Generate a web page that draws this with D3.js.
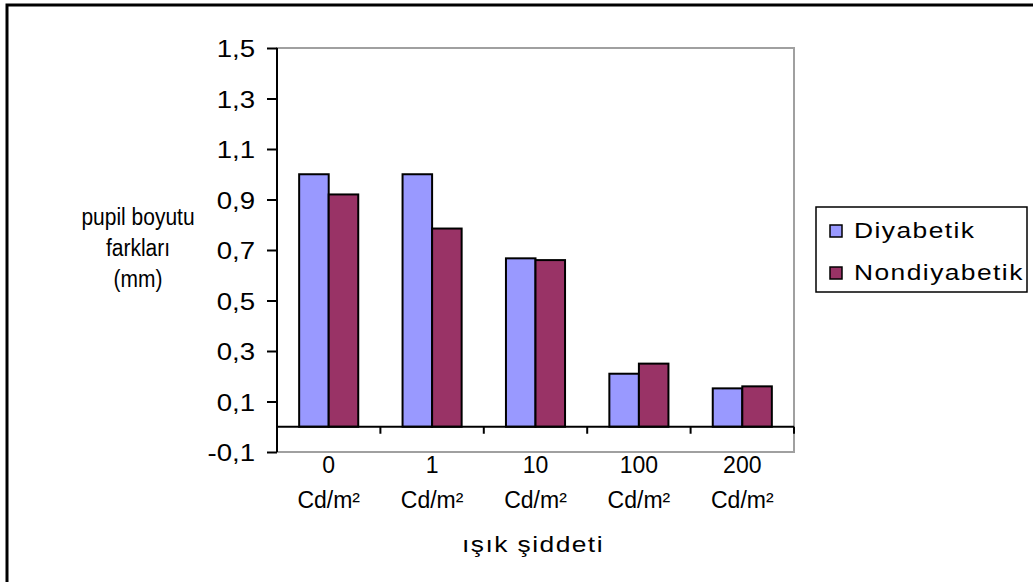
<!DOCTYPE html>
<html>
<head>
<meta charset="utf-8">
<script src="https://cdn.jsdelivr.net/npm/d3@7"></script>
<style>
  html, body { margin: 0; padding: 0; background: #fff; }
  svg { display: block; font-family: "Liberation Sans", Arial, sans-serif; }
</style>
</head>
<body>
<svg id="chart" width="1033" height="582"></svg>
<script>
// Light intensity levels (two-line category labels)
const categories = ["0", "1", "10", "100", "200"];
const categoryUnit = "Cd/m²";
const seriesNames = ["Diyabetik", "Nondiyabetik"];
const diyabetik = [1.0, 1.0, 0.667, 0.21, 0.152];
const nondiyabetik = [0.92, 0.785, 0.66, 0.25, 0.16];
const yTicks = [-0.1, 0.1, 0.3, 0.5, 0.7, 0.9, 1.1, 1.3, 1.5];
const colors = ["#9999ff", "#993366"];

const svg = d3.select("#chart");
const plot = { left: 277, right: 794, top: 48, bottom: 452 };

// Places a text at (x, y) with an optional glyph scaling around its anchor point
function placeText(sel, fx, fy, sx = 1, sy = 1) {
  const v = (f, d, i) => (typeof f === "function" ? f(d, i) : f);
  return sel.attr("transform", (d, i) => `translate(${v(fx, d, i)},${v(fy, d, i)}) scale(${sx},${sy})`);
}

// Outer frame (only top and left edges fall inside the page)
svg.append("rect")
  .attr("x", 7).attr("y", 5)
  .attr("width", 1040).attr("height", 600)
  .attr("fill", "none").attr("stroke", "#000").attr("stroke-width", 3);

const x = d3.scaleBand().domain(categories).range([plot.left, plot.right]).paddingInner(0).paddingOuter(0);
const y = d3.scaleLinear().domain([-0.1, 1.5]).range([plot.bottom, plot.top]);

// Plot area border
svg.append("rect")
  .attr("x", plot.left).attr("y", plot.top)
  .attr("width", plot.right - plot.left).attr("height", plot.bottom - plot.top)
  .attr("fill", "#fff").attr("stroke", "#a0a0a0").attr("stroke-width", 2);

// Bars: gap width 150% of the bar width
const barW = x.bandwidth() / 3.5;
const rows = categories.map((c, i) => ({ c, vals: [diyabetik[i], nondiyabetik[i]] }));
const groups = svg.append("g").selectAll("g").data(rows).join("g")
  .attr("transform", d => `translate(${x(d.c) + barW * 0.75},0)`);
groups.selectAll("rect").data(d => d.vals).join("rect")
  .attr("x", (d, j) => j * barW)
  .attr("y", d => y(Math.max(0, d)))
  .attr("width", barW)
  .attr("height", d => Math.abs(y(d) - y(0)))
  .attr("fill", (d, j) => colors[j])
  .attr("stroke", "#000").attr("stroke-width", 2);

// Value axis
const yAxis = d3.axisLeft(y).tickValues(yTicks).tickSize(10).tickPadding(8)
  .tickFormat(d => d3.format(".1f")(d).replace(".", ",").replace("\u2212", "-"));
const yg = svg.append("g").attr("transform", `translate(${plot.left},0)`).call(yAxis);
yg.select(".domain").attr("stroke", "#000").attr("stroke-width", 2).attr("d", `M0,${plot.top}V${plot.bottom}`);
yg.selectAll(".tick line").attr("stroke", "#000").attr("stroke-width", 2);
yg.selectAll(".tick text").attr("font-size", 24).attr("fill", "#000")
  .attr("font-family", "Liberation Sans, Arial, sans-serif")
  .attr("x", null).attr("dy", null).attr("y", 8.5)
  .attr("transform", "translate(-22,0) scale(1.15,1)");

// Category axis along zero
const xAxisG = svg.append("g").attr("transform", `translate(0,${y(0)})`);
xAxisG.append("line").attr("x1", plot.left).attr("x2", plot.right)
  .attr("stroke", "#000").attr("stroke-width", 2);
const boundaries = categories.map(c => x(c) + x.bandwidth());
xAxisG.selectAll("line.tk").data(boundaries).join("line").attr("class", "tk")
  .attr("x1", d => d).attr("x2", d => d).attr("y1", 0).attr("y2", 7)
  .attr("stroke", "#000").attr("stroke-width", 2);

// Category labels beneath the plot area
const lab = svg.append("g").attr("font-size", 23).attr("fill", "#000").attr("text-anchor", "middle");
placeText(lab.selectAll("text.v").data(categories).join("text").attr("class", "v"),
  c => x(c) + x.bandwidth() / 2, 473).text(c => c);
placeText(lab.selectAll("text.u").data(categories).join("text").attr("class", "u"),
  c => x(c) + x.bandwidth() / 2, 508).text(categoryUnit);

// Axis titles
placeText(svg.append("text").attr("text-anchor", "middle").attr("font-size", 22)
  .attr("letter-spacing", 1.2), 533, 552, 1.2, 1).text("ışık şiddeti");
const yTitle = ["pupil boyutu", "farkları", "(mm)"];
placeText(svg.append("g").attr("font-size", 21).attr("text-anchor", "middle")
  .selectAll("text").data(yTitle).join("text"), 138, (d, i) => 225 + i * 31, 1, 1.15).text(d => d);

// Legend
const lg = svg.append("g");
lg.append("rect").attr("x", 816).attr("y", 207).attr("width", 211).attr("height", 85)
  .attr("fill", "#fff").attr("stroke", "#000").attr("stroke-width", 1.5);
const items = lg.selectAll("g").data(seriesNames).join("g")
  .attr("transform", (d, i) => `translate(0,${i * 42})`);
items.append("rect").attr("x", 830).attr("y", 225).attr("width", 12).attr("height", 12)
  .attr("fill", (d, i) => colors[i]).attr("stroke", "#000").attr("stroke-width", 1.5);
placeText(items.append("text").attr("font-size", 22).attr("letter-spacing", 1.2), 854, 238, 1.2, 1)
  .text(d => d);
</script>
</body>
</html>
